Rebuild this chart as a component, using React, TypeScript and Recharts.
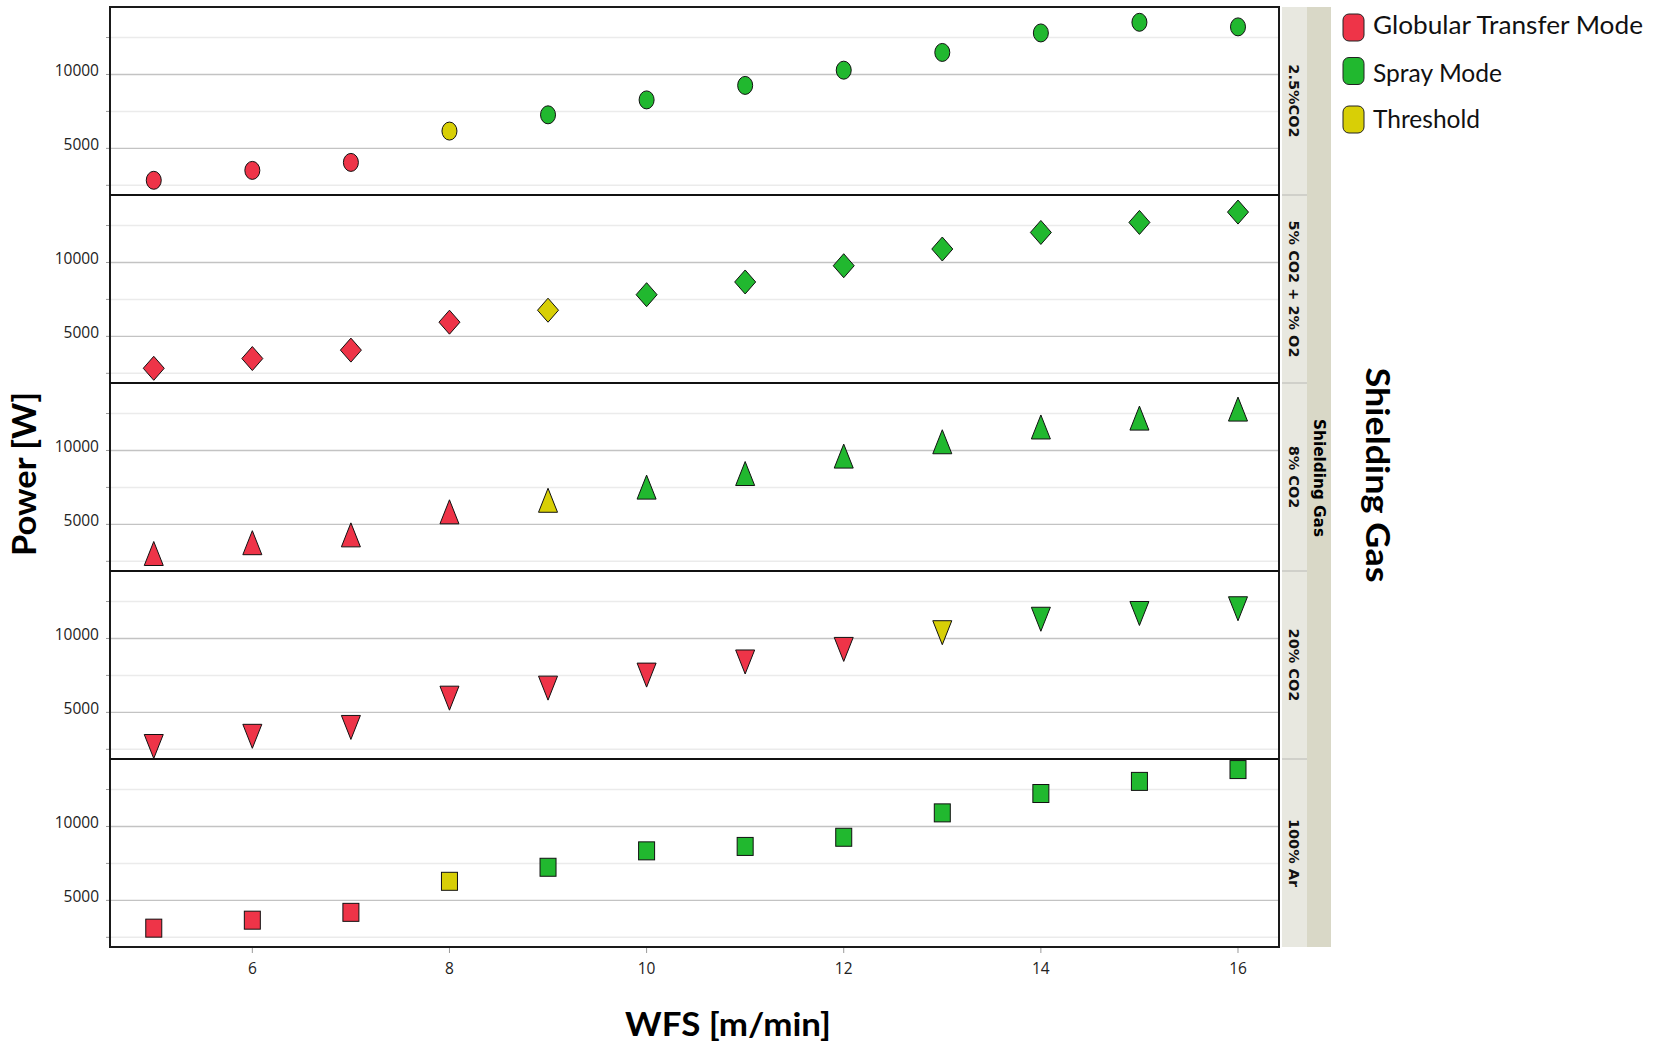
import React from 'react';
import { ScatterChart, Scatter, XAxis, YAxis, ReferenceLine } from 'recharts';

// Wire feed speed [m/min], shared by every shielding gas
const wfs = [5, 6, 7, 8, 9, 10, 11, 12, 13, 14, 15, 16];

// Arc power [W] per shielding gas
const power25CO2 = [2840, 3510, 4050, 6170, 7270, 8280, 9260, 10290, 11490, 12810, 13530, 13220];
const power5CO2O2 = [2840, 3500, 4070, 5960, 6770, 7820, 8680, 9780, 10910, 12030, 12710, 13410];
const power8CO2 = [3030, 3760, 4290, 5850, 6630, 7520, 8440, 9620, 10590, 11590, 12190, 12800];
const power20CO2 = [2690, 3380, 3980, 5960, 6640, 7520, 8410, 9260, 10390, 11300, 11690, 12010];
const power100Ar = [3120, 3660, 4190, 6290, 7240, 8350, 8650, 9270, 10920, 12230, 13050, 13850];

// Metal transfer mode per point: G = globular, T = threshold, S = spray
const mode25CO2 = ['G', 'G', 'G', 'T', 'S', 'S', 'S', 'S', 'S', 'S', 'S', 'S'];
const mode5CO2O2 = ['G', 'G', 'G', 'G', 'T', 'S', 'S', 'S', 'S', 'S', 'S', 'S'];
const mode8CO2 = ['G', 'G', 'G', 'G', 'T', 'S', 'S', 'S', 'S', 'S', 'S', 'S'];
const mode20CO2 = ['G', 'G', 'G', 'G', 'G', 'G', 'G', 'G', 'T', 'S', 'S', 'S'];
const mode100Ar = ['G', 'G', 'G', 'T', 'S', 'S', 'S', 'S', 'S', 'S', 'S', 'S'];

const gasLabels = ['2.5%CO2', '5% CO2 + 2% O2', '8% CO2', '20% CO2', '100% Ar'];
const legendLabels = ['Globular Transfer Mode', 'Spray Mode', 'Threshold'];
const modeKeys = ['G', 'S', 'T'];

const xTicks = [6, 8, 10, 12, 14, 16];
const yTicks = [2500, 5000, 7500, 10000, 12500];
const yLabelled = [5000, 10000];
const gridMinor = [2500, 7500, 12500];
const gridMajor = [5000, 10000];

const xDomain = [4.556, 16.416];
const yDomain = [1845, 14565];

const COLORS: Record<string, string> = { G: '#EE3448', S: '#21B82F', T: '#D8CF06' };

const panels = [
  { label: gasLabels[0], marker: 'circle', power: power25CO2, modes: mode25CO2 },
  { label: gasLabels[1], marker: 'diamond', power: power5CO2O2, modes: mode5CO2O2 },
  { label: gasLabels[2], marker: 'triangle', power: power8CO2, modes: mode8CO2 },
  { label: gasLabels[3], marker: 'triangleDown', power: power20CO2, modes: mode20CO2 },
  { label: gasLabels[4], marker: 'square', power: power100Ar, modes: mode100Ar },
];

// layout
const PLOT_LEFT = 110;
const PLOT_RIGHT = 1279;
const PANEL_TOP = 7;
const PANEL_H = 188;
const STRIP_X = 1282;
const STRIP_W = 25;
const OUTER_STRIP_W = 24;

function Marker({ kind, cx, cy, fill }: { kind: string; cx: number; cy: number; fill: string }) {
  const common = { fill, stroke: '#111', strokeWidth: 1 };
  switch (kind) {
    case 'circle':
      return <ellipse cx={cx} cy={cy} rx={7.5} ry={9} {...common} />;
    case 'diamond':
      return (
        <polygon
          points={`${cx},${cy - 12} ${cx + 10.5},${cy} ${cx},${cy + 12} ${cx - 10.5},${cy}`}
          {...common}
        />
      );
    case 'triangle':
      return (
        <polygon
          points={`${cx},${cy - 12} ${cx + 9.5},${cy + 12} ${cx - 9.5},${cy + 12}`}
          {...common}
        />
      );
    case 'triangleDown':
      return (
        <polygon
          points={`${cx - 9.5},${cy - 12} ${cx + 9.5},${cy - 12} ${cx},${cy + 12}`}
          {...common}
        />
      );
    default:
      return <rect x={cx - 8} y={cy - 9} width={16} height={18} {...common} />;
  }
}

function YTick(props: any) {
  const { x, y, payload } = props;
  if (!yLabelled.includes(payload.value)) return <g />;
  return (
    <text
      x={x}
      y={y - 4}
      textAnchor="end"
      dominantBaseline="central"
      fontSize={15.5}
      fontFamily="'Open Sans', sans-serif"
      fill="#222"
    >
      {payload.value}
    </text>
  );
}

function Panel({ index }: { index: number }) {
  const panel = panels[index];
  const isLast = index === panels.length - 1;
  const rows = wfs.map((x, i) => ({ wfs: x, power: panel.power[i], mode: panel.modes[i] }));
  return (
    <ScatterChart
      width={PLOT_RIGHT + 1}
      height={isLast ? PANEL_H + 60 : PANEL_H}
      margin={{ top: 0, right: 1, bottom: 0, left: 0 }}
    >
      <XAxis
        type="number"
        dataKey="wfs"
        domain={xDomain}
        ticks={xTicks}
        interval={0}
        allowDataOverflow
        hide={!isLast}
        height={60}
        axisLine={false}
        tickLine={{ stroke: '#9a9a9a' }}
        tickSize={6}
        tickMargin={10}
        tick={{ fontSize: 15.5, fill: '#222', fontFamily: "'Open Sans', sans-serif" }}
      />
      <YAxis
        type="number"
        dataKey="power"
        domain={yDomain}
        ticks={yTicks}
        interval={0}
        allowDataOverflow
        width={PLOT_LEFT}
        axisLine={false}
        tickLine={{ stroke: '#9a9a9a' }}
        tickSize={4}
        tickMargin={7}
        tick={<YTick />}
      />
      {gridMinor.map((v) => (
        <ReferenceLine key={`mi${v}`} y={v} stroke="#ebebeb" strokeWidth={1.5} />
      ))}
      {gridMajor.map((v) => (
        <ReferenceLine key={`ma${v}`} y={v} stroke="#c3c3c3" strokeWidth={1.4} />
      ))}
      {modeKeys.map((m) => (
        <Scatter
          key={m}
          name={legendLabels[modeKeys.indexOf(m)]}
          data={rows.filter((r) => r.mode === m)}
          fill={COLORS[m]}
          isAnimationActive={false}
          shape={(p: any) => <Marker kind={panel.marker} cx={p.cx} cy={p.cy} fill={COLORS[m]} />}
        />
      ))}
    </ScatterChart>
  );
}

export default function App() {
  const plotBottom = PANEL_TOP + PANEL_H * panels.length;
  const midY = (PANEL_TOP + plotBottom) / 2;
  return (
    <div
      style={{
        position: 'absolute',
        left: 0,
        top: 0,
        width: 1654,
        height: 1043,
        background: '#fff',
        overflow: 'hidden',
      }}
    >
      {panels.map((p, i) => (
        <div key={p.label} style={{ position: 'absolute', left: 0, top: PANEL_TOP + i * PANEL_H }}>
          <Panel index={i} />
        </div>
      ))}
      <svg
        width={1654}
        height={1043}
        style={{ position: 'absolute', left: 0, top: 0, pointerEvents: 'none' }}
      >
        {/* strips with gas names */}
        <rect x={STRIP_X} y={PANEL_TOP} width={STRIP_W} height={plotBottom - PANEL_TOP} fill="#e8e8e0" />
        <rect
          x={STRIP_X + STRIP_W}
          y={PANEL_TOP}
          width={OUTER_STRIP_W}
          height={plotBottom - PANEL_TOP}
          fill="#d9d8c7"
        />
        {panels.slice(1).map((p, i) => (
          <line
            key={`sep${p.label}`}
            x1={STRIP_X}
            x2={STRIP_X + STRIP_W}
            y1={PANEL_TOP + (i + 1) * PANEL_H}
            y2={PANEL_TOP + (i + 1) * PANEL_H}
            stroke="#d0d0ca"
            strokeWidth={2}
          />
        ))}
        {panels.map((p, i) => {
          const cy = PANEL_TOP + i * PANEL_H + PANEL_H / 2;
          const cx = STRIP_X + STRIP_W / 2 - 1;
          return (
            <text
              key={`lab${p.label}`}
              transform={`translate(${cx},${cy}) rotate(90)`}
              textAnchor="middle"
              dominantBaseline="central"
              fontFamily="'DejaVu Sans', sans-serif"
              fontWeight="bold"
              fontSize={14.5}
              fill="#111"
            >
              {p.label}
            </text>
          );
        })}
        <text
          transform={`translate(${STRIP_X + STRIP_W + OUTER_STRIP_W / 2},${midY + 1}) rotate(90)`}
          textAnchor="middle"
          dominantBaseline="central"
          fontFamily="'DejaVu Sans', sans-serif"
          fontWeight="bold"
          fontSize={15}
          textLength={118}
          lengthAdjust="spacingAndGlyphs"
          fill="#000"
        >
          Shielding Gas
        </text>

        {/* panel frames */}
        <rect
          x={PLOT_LEFT}
          y={PANEL_TOP}
          width={PLOT_RIGHT - PLOT_LEFT}
          height={plotBottom - PANEL_TOP}
          fill="none"
          stroke="#1a1a1a"
          strokeWidth={2}
        />
        {panels.slice(1).map((p, i) => (
          <line
            key={`frm${p.label}`}
            x1={PLOT_LEFT}
            x2={PLOT_RIGHT}
            y1={PANEL_TOP + (i + 1) * PANEL_H}
            y2={PANEL_TOP + (i + 1) * PANEL_H}
            stroke="#111"
            strokeWidth={2}
          />
        ))}

        {/* axis titles */}
        <text
          transform={`translate(23,474) rotate(-90)`}
          textAnchor="middle"
          dominantBaseline="central"
          fontFamily="Lato, sans-serif"
          fontWeight="bold"
          fontSize={32}
          textLength={164}
          lengthAdjust="spacingAndGlyphs"
          fill="#000"
        >
          Power [W]
        </text>
        <text
          x={728}
          y={1023}
          textAnchor="middle"
          dominantBaseline="central"
          fontFamily="Lato, sans-serif"
          fontWeight="bold"
          fontSize={32}
          textLength={206}
          lengthAdjust="spacingAndGlyphs"
          fill="#000"
        >
          WFS [m/min]
        </text>
        <text
          transform={`translate(1378,475) rotate(90)`}
          textAnchor="middle"
          dominantBaseline="central"
          fontFamily="Lato, sans-serif"
          fontWeight="bold"
          fontSize={32}
          textLength={215}
          lengthAdjust="spacingAndGlyphs"
          fill="#000"
        >
          Shielding Gas
        </text>

        {/* legend */}
        {modeKeys.map((m, i) => {
          const top = [14, 57.5, 106][i];
          const baseline = [33.5, 81.5, 127.5][i];
          return (
            <g key={`leg${m}`}>
              <rect x={1343} y={top} width={21} height={27} rx={6} fill={COLORS[m]} stroke="#222" strokeWidth={1} />
              <text
                x={1373}
                y={baseline}
                fontFamily="Lato, sans-serif"
                fontSize={25}
                textLength={[270, 129, 107][i]}
                lengthAdjust="spacingAndGlyphs"
                fill="#111"
              >
                {legendLabels[i]}
              </text>
            </g>
          );
        })}
      </svg>
    </div>
  );
}
